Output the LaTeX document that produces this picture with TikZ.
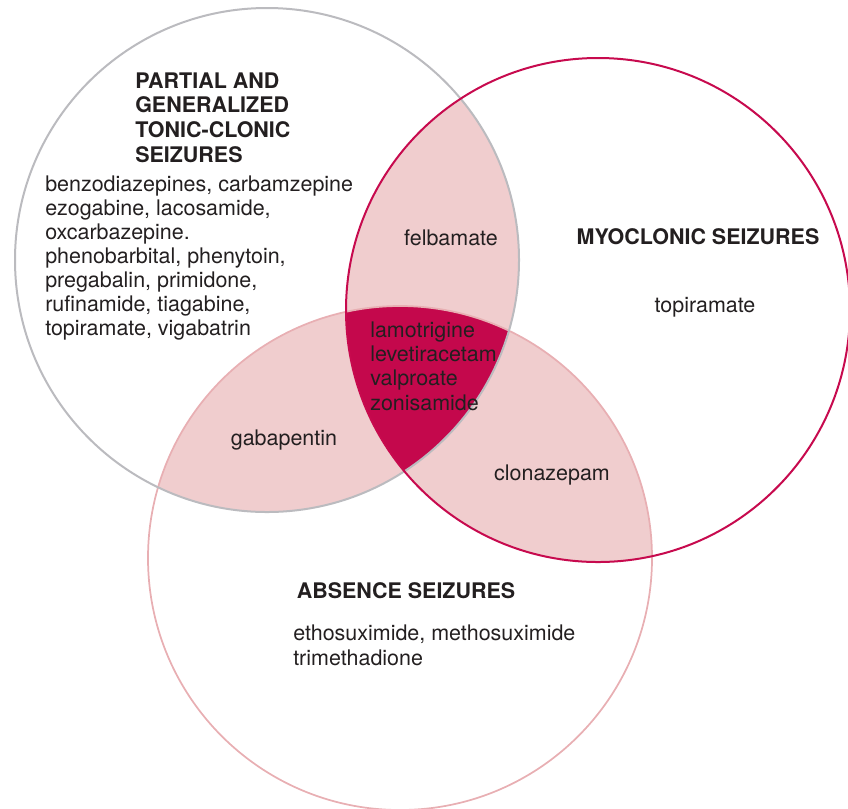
\documentclass[tikz,border=0pt]{standalone}
\usepackage{fontspec}
\setmainfont{TeX Gyre Heros}

\definecolor{txtgray}{HTML}{231F20}
\definecolor{tonicline}{HTML}{BBBBBF}
\definecolor{myoline}{HTML}{C70A4E}
\definecolor{absline}{HTML}{E8AFB3}
\definecolor{lightfill}{HTML}{F0CDCE}
\definecolor{deepfill}{HTML}{C4084C}

\begin{document}
\begin{tikzpicture}[
		x = 0.75pt, y = -0.75pt, % pixel grid, y grows downwards
		font = \fontsize{16.1}{18.2}\selectfont, % text size
		text = txtgray,
		]
		
		\tikzstyle{every node}=[
		inner sep = 0pt
		]
		\tikzstyle{title}=[
		font = \fontsize{16.1}{18.5}\selectfont\bfseries
		]
		\tikzstyle{list}=[
		anchor = base west, % base = last line
		align = left
		]
		\def\rad{189pt}
		
		\useasboundingbox (0,0) rectangle (848,808);
		
		\coordinate (tonic) at (267,260);
		\coordinate (myo) at (598,310);
		\coordinate (absence) at (400,558);
		
		% two-set overlaps
		\begin{scope}
			\clip (tonic) circle [radius=\rad];
			\fill[lightfill] (myo) circle [radius=\rad];
			\fill[lightfill] (absence) circle [radius=\rad];
		\end{scope}
		\begin{scope}
			\clip (myo) circle [radius=\rad];
			\fill[lightfill] (absence) circle [radius=\rad];
		\end{scope}
		% all three
		\begin{scope}
			\clip (tonic) circle [radius=\rad];
			\clip (myo) circle [radius=\rad];
			\fill[deepfill] (absence) circle [radius=\rad];
		\end{scope}
		
		\draw[absline, line width=1.3pt] (absence) circle [radius=\rad];
		\draw[tonicline, line width=1.5pt] (tonic) circle [radius=\rad];
		\draw[myoline, line width=1.5pt] (myo) circle [radius=\rad];
		
		\node[title, list] (tonictitle) at (135,162) {PARTIAL AND\\GENERALIZED\\TONIC-CLONIC\\SEIZURES};
		\node[list, font=\fontsize{16.1}{17.9}\selectfont] (toniclist) at (45,335) {benzodiazepines, carbamzepine\\ezogabine, lacosamide,\\oxcarbazepine.\\phenobarbital, phenytoin,\\pregabalin, primidone,\\rufinamide, tiagabine,\\topiramate, vigabatrin};
		
		\node[title, anchor=base] (myotitle) at (698,244) {MYOCLONIC SEIZURES};
		\node[anchor=base] (myolist) at (705,312) {topiramate};
		
		\node[title, anchor=base] (abstitle) at (406,598) {ABSENCE SEIZURES};
		\node[list] (abslist) at (293,665) {ethosuximide, methosuximide\\trimethadione};
		
		\node[anchor=base] (felb) at (451,245) {felbamate};
		\node[anchor=base] (gaba) at (284,445) {gabapentin};
		\node[anchor=base] (clona) at (552,480) {clonazepam};
		\node[list] (allthree) at (370,410) {lamotrigine\\levetiracetam\\valproate\\zonisamide};
	\end{tikzpicture}
\end{document}
